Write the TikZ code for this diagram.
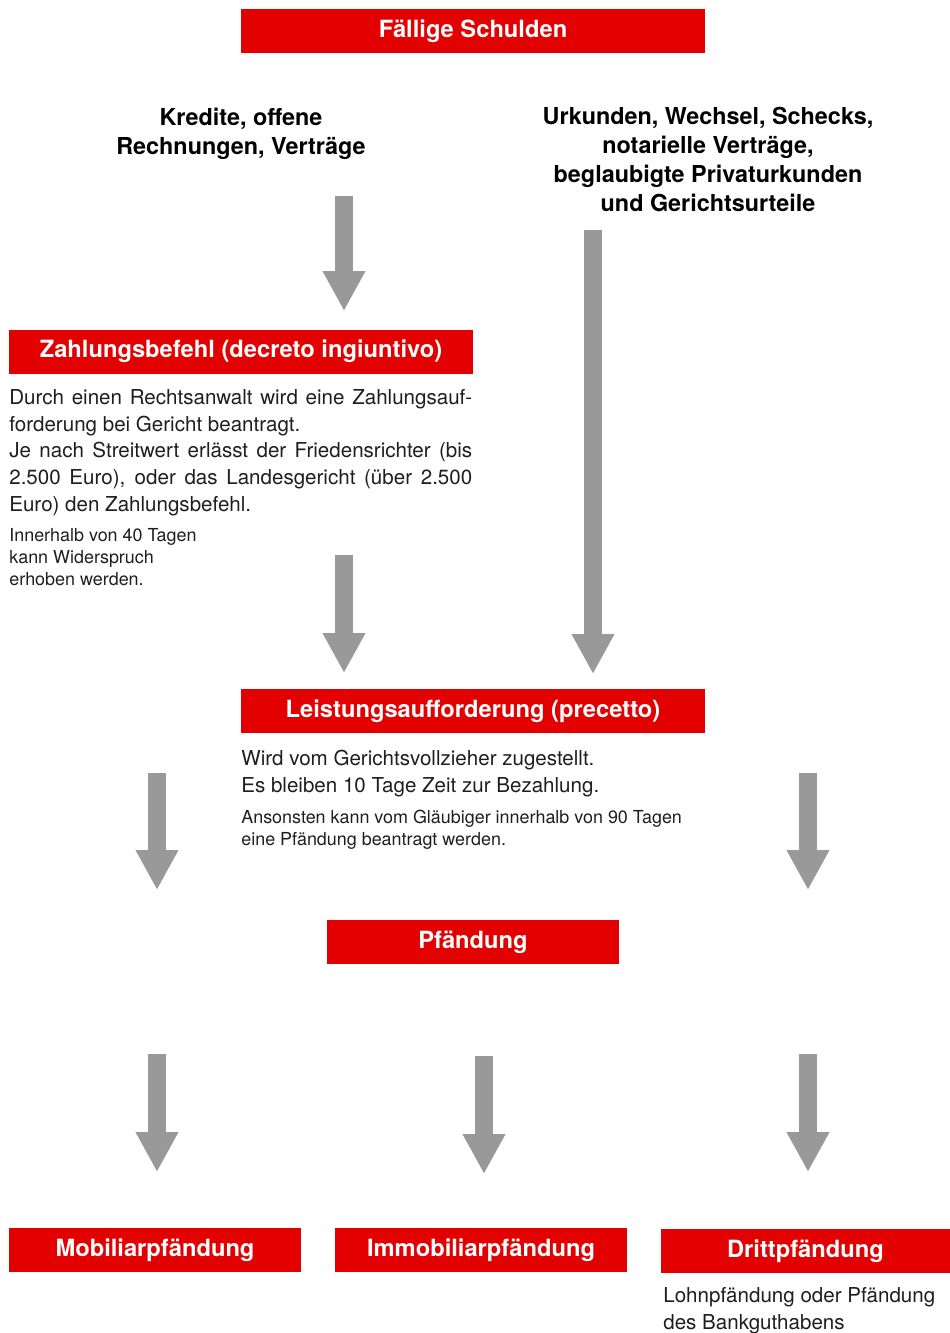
\documentclass[tikz,border=0pt]{standalone}
\usepackage{fontspec}
\setmainfont{TeX Gyre Heros}
\usetikzlibrary{arrows.meta}
\definecolor{boxred}{RGB}{227,0,0}
\definecolor{arrowgray}{RGB}{153,153,153}
\definecolor{notegray}{RGB}{30,30,30}
\newcommand{\boxfont}{\fontsize{13.5}{16}\selectfont\bfseries}
\newcommand{\titlefont}{\fontsize{13.3}{16.5}\selectfont\bfseries}
\newcommand{\notefont}{\fontsize{11.7}{15.2}\selectfont}
\newcommand{\smallnotefont}{\fontsize{10.2}{12.6}\selectfont}

\tikzset{
  redbox/.style={fill=boxred, text=white, font=\boxfont, minimum height=0.88cm, inner sep=0pt},
  title/.style={font=\titlefont, align=center, inner sep=0pt},
  note/.style={font=\notefont, text=notegray, align=left, inner sep=0pt, anchor=north west},
  smallnote/.style={font=\smallnotefont, text=notegray, align=left, inner sep=0pt, anchor=north west},
  downarrow/.style={arrowgray, line width=0.36cm, -{Triangle[width=0.8cm,length=0.8cm]}}
}

\begin{document}
\begin{tikzpicture}[x=0.02cm,y=-0.02cm]
\useasboundingbox (0,0) rectangle (950,1333);

% boxes
\node[redbox, minimum width=9.28cm] (schulden) at (473,31) {Fällige Schulden};
\node[redbox, minimum width=9.28cm] (zahlungsbefehl) at (241,351.5) {Zahlungsbefehl (decreto ingiuntivo)};
\node[redbox, minimum width=9.28cm] (precetto) at (473,711) {Leistungsaufforderung (precetto)};
\node[redbox, minimum width=5.84cm] (pfaendung) at (473,942) {Pfändung};
\node[redbox, minimum width=5.84cm] (mobiliar) at (155,1250) {Mobiliarpfändung};
\node[redbox, minimum width=5.84cm] (immobiliar) at (481,1250) {Immobiliarpfändung};
\node[redbox, minimum width=5.78cm] (dritt) at (805.5,1251) {Drittpfändung};

% titles
\node[title] (kredite) at (241,134) {Kredite, offene\\Rechnungen, Verträge};
\node[title] (urkunden) at (708,159.5) {Urkunden, Wechsel, Schecks,\\notarielle Verträge,\\beglaubigte Privaturkunden\\und Gerichtsurteile};

% notes
\node[note, text width=9.26cm, align=justify] (befehltext) at (9,389)
  {Durch einen Rechtsanwalt wird eine Zahlungsauf-\linebreak forderung bei Gericht beantragt.\\
   Je nach Streitwert erlässt der Friedensrichter (bis\linebreak 2.500 Euro), oder das Landesgericht (über 2.500\linebreak Euro) den Zahlungsbefehl.};
\node[smallnote] (widerspruch) at (9,528) {Innerhalb von 40 Tagen\\kann Widerspruch\\erhoben werden.};
\node[note] (precettotext) at (241,750) {Wird vom Gerichtsvollzieher zugestellt.\\Es bleiben 10 Tage Zeit zur Bezahlung.};
\node[smallnote] (frist) at (241,810) {Ansonsten kann vom Gläubiger innerhalb von 90 Tagen\\eine Pfändung beantragt werden.};
\node[note] (lohn) at (663,1287) {Lohnpfändung oder Pfändung\\des Bankguthabens};

% arrows
\coordinate (kredite-out) at (344,196);
\coordinate (befehl-in) at (344,311);
\coordinate (urkunden-out) at (593,230);
\coordinate (precetto-in-r) at (593,674);
\coordinate (befehl-out) at (344,555);
\coordinate (precetto-in-l) at (344,673);
\coordinate (precetto-out-l) at (157,773);
\coordinate (pfaendung-in-l) at (157,890);
\coordinate (precetto-out-r) at (808,773);
\coordinate (pfaendung-in-r) at (808,890);
\coordinate (pfaendung-out-l) at (157,1054);
\coordinate (mobiliar-in) at (157,1172);
\coordinate (pfaendung-out-m) at (484,1056);
\coordinate (immobiliar-in) at (484,1174);
\coordinate (pfaendung-out-r) at (808,1054);
\coordinate (dritt-in) at (808,1172);

\draw[downarrow] (kredite-out) -- (befehl-in);
\draw[downarrow] (urkunden-out) -- (precetto-in-r);
\draw[downarrow] (befehl-out) -- (precetto-in-l);
\draw[downarrow] (precetto-out-l) -- (pfaendung-in-l);
\draw[downarrow] (precetto-out-r) -- (pfaendung-in-r);
\draw[downarrow] (pfaendung-out-l) -- (mobiliar-in);
\draw[downarrow] (pfaendung-out-m) -- (immobiliar-in);
\draw[downarrow] (pfaendung-out-r) -- (dritt-in);
\end{tikzpicture}
\end{document}
